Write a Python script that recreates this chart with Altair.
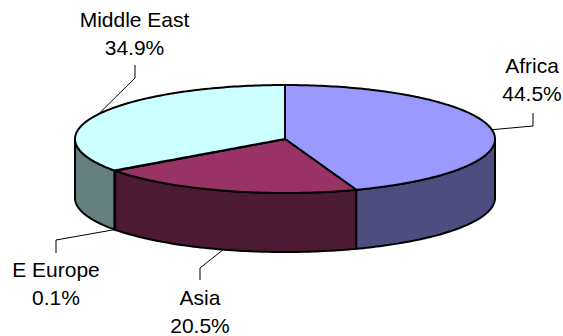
import math
import altair as alt
import pandas as pd

# Export-share figures, in the clockwise order of the slices from twelve o'clock
regions = ["Africa", "Asia", "E Europe", "Middle East"]
shares = [44.5, 20.5, 0.1, 34.9]
top_colors = ["#9999FF", "#993366", "#FFFFCC", "#CCFFFF"]
side_colors = ["#4D4D80", "#4D1A33", "#808066", "#668080"]

# Tilted disc: centre, radii and rim depth in plot units
CX, CY, RX, RY, DEPTH = 285.0, 139.0, 210.0, 54.0, 59.0
STEP = 1.0

# Label placement: text centre x, first baseline, and the leader's elbow
label_layout = {
    "Africa": (532, 73, (533, 113), (533, 126)),
    "Asia": (200, 305, (200, 280), (200, 268)),
    "E Europe": (56, 277, (56, 253), (56, 240)),
    "Middle East": (134.5, 27, (135, 65), (135, 78)),
}


def rim(deg, drop=0.0):
    a = math.radians(deg)
    return CX + RX * math.sin(a), CY - RY * math.cos(a) + drop


def sweep(start, end):
    n = max(2, int(abs(end - start) / STEP) + 1)
    return [start + (end - start) * i / (n - 1) for i in range(n)]


def column_table(polygon):
    """Turn a polygon that is monotone in x into x / y / y2 columns for an area."""
    rows = []
    closed = polygon + polygon[:1]
    for x in sorted({round(p[0], 3) for p in polygon}):
        ys = []
        for (x1, y1), (x2, y2) in zip(closed, closed[1:]):
            lo, hi = min(x1, x2), max(x1, x2)
            if lo - 1e-3 <= x <= hi + 1e-3:
                if abs(x2 - x1) < 1e-6:
                    ys += [y1, y2]
                else:
                    ys.append(y1 + (y2 - y1) * (x - x1) / (x2 - x1))
        rows.append({"x": x, "y": min(ys), "y2": max(ys)})
    return pd.DataFrame(rows)


x_scale = alt.Scale(domain=[0, 563], range=[0, 563], nice=False, zero=False)
y_scale = alt.Scale(domain=[0, 336], range=[0, 336], nice=False, zero=False)


def area_layer(table, color):
    return (
        alt.Chart(table)
        .mark_area(fill=color, stroke="#000000", strokeWidth=2, interpolate="linear", opacity=1)
        .encode(
            x=alt.X("x:Q", scale=x_scale, axis=None),
            y=alt.Y("y:Q", scale=y_scale, axis=None),
            y2="y2:Q",
        )
    )


spans = []
start = 0.0
for share in shares:
    end = start + share * 3.6
    spans.append((start, end))
    start = end

side_layers = []
top_layers = []
leaders = []
texts = []

for region, share, top, side, (a0, a1) in zip(regions, shares, top_colors, side_colors, spans):
    # The rim is only visible along the front half of the disc
    v0, v1 = max(a0, 90.0), min(a1, 270.0)
    if v1 > v0:
        pts = [rim(d) for d in sweep(v0, v1)]
        rows = [{"x": x, "y": y, "y2": y + DEPTH} for x, y in pts]
        side_layers.append(area_layer(pd.DataFrame(rows), side))

    wedge = [(CX, CY)] + [rim(d) for d in sweep(a0, a1)]
    top_layers.append(area_layer(column_table(wedge), top))

    # Leader runs from the middle of the slice's outer edge to its label
    mid = (a0 + a1) / 2
    on_front = 90.0 < mid < 270.0
    anchor = rim(mid, DEPTH if on_front else 0.0)
    cx, base, tip, elbow = label_layout[region]
    leaders.append(
        pd.DataFrame(
            [
                {"region": region, "i": 0, "x": tip[0], "y": tip[1]},
                {"region": region, "i": 1, "x": elbow[0], "y": elbow[1]},
                {"region": region, "i": 2, "x": anchor[0], "y": anchor[1]},
            ]
        )
    )
    texts.append({"x": cx, "y": base, "text": region})
    texts.append({"x": cx, "y": base + 27.5, "text": f"{share:.1f}%"})

leader_layer = (
    alt.Chart(pd.concat(leaders))
    .mark_line(color="#000000", strokeWidth=1, interpolate="linear")
    .encode(
        x=alt.X("x:Q", scale=x_scale, axis=None),
        y=alt.Y("y:Q", scale=y_scale, axis=None),
        detail="region:N",
        order="i:Q",
    )
)

text_layer = (
    alt.Chart(pd.DataFrame(texts))
    .mark_text(font="Liberation Sans", fontSize=21, color="#000000", align="center", baseline="alphabetic")
    .encode(
        x=alt.X("x:Q", scale=x_scale, axis=None),
        y=alt.Y("y:Q", scale=y_scale, axis=None),
        text="text:N",
    )
)

chart = (
    alt.layer(*side_layers, *top_layers, leader_layer, text_layer)
    .properties(
        width=563,
        height=336,
        padding=0,
        autosize=alt.AutoSizeParams(type="none"),
        background="#FFFFFF",
    )
    .configure_view(stroke=None)
)

chart.save("out.html", embed_options={"renderer": "svg", "actions": False})
